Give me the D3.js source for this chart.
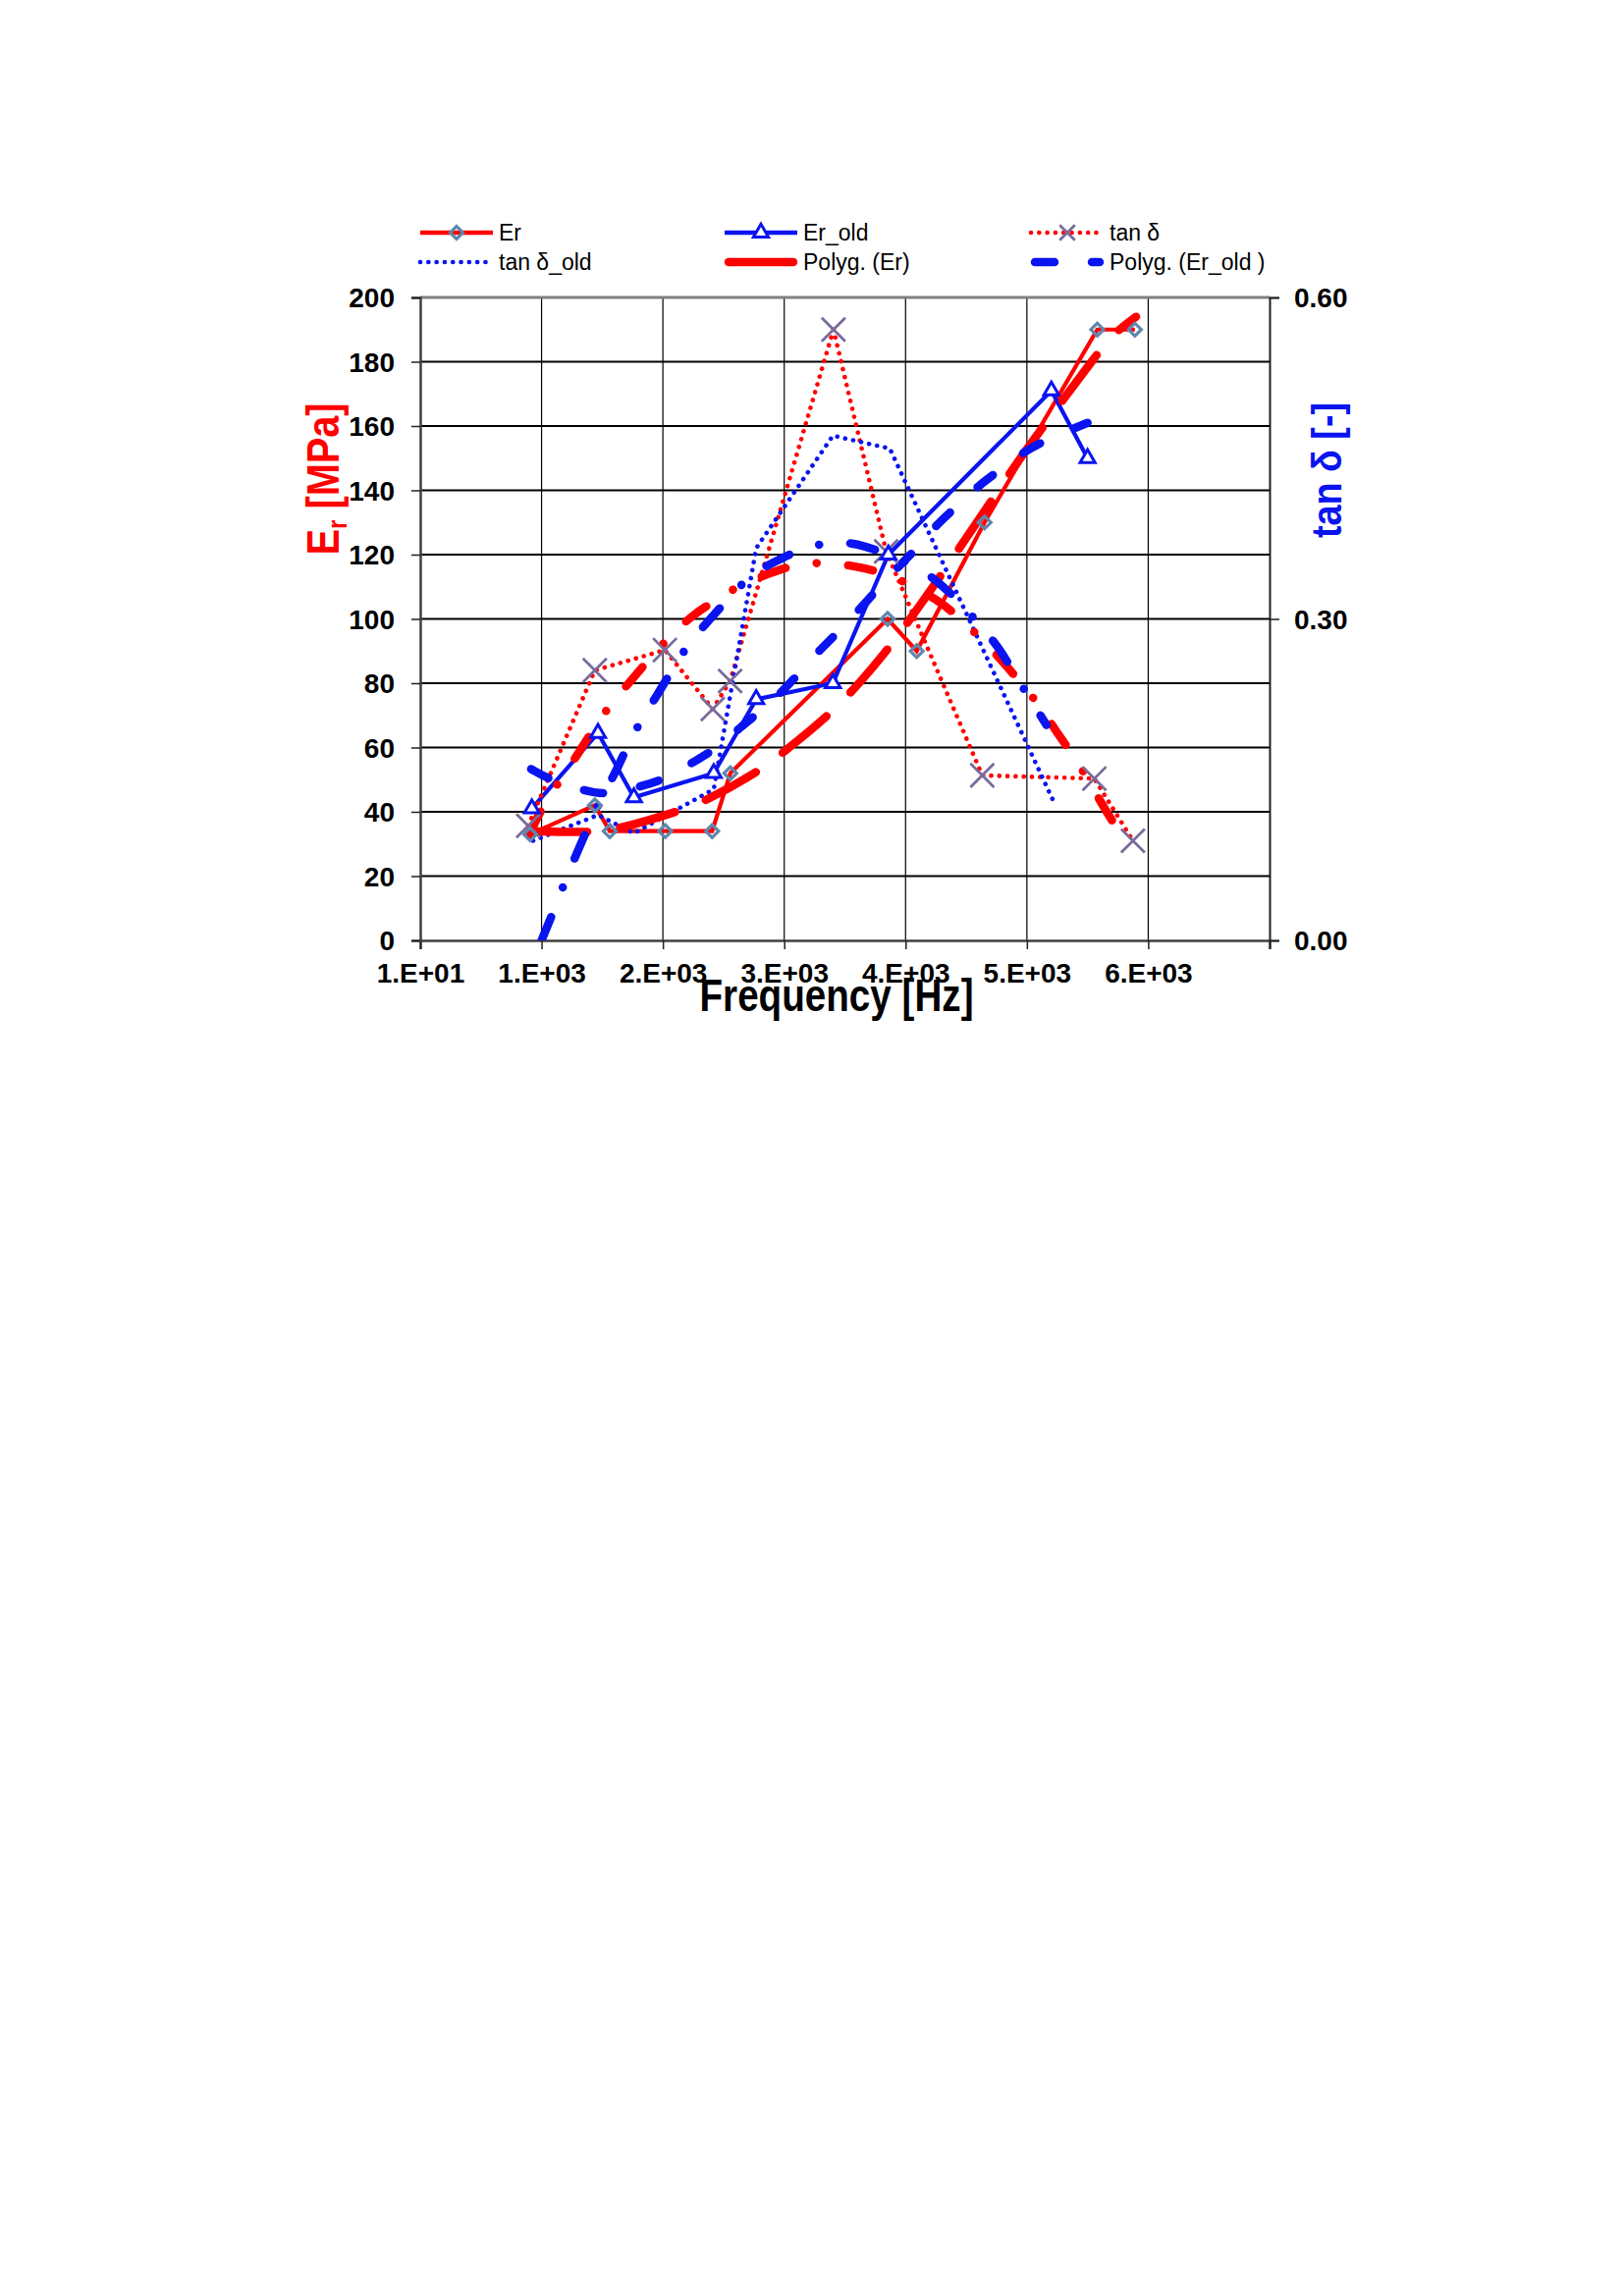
<!DOCTYPE html>
<html>
<head>
<meta charset="utf-8">
<script src="https://cdn.jsdelivr.net/npm/d3@7"></script>
<style>
  body { margin: 0; background: #fff; }
  svg { display: block; font-family: "Liberation Sans", Arial, sans-serif; }
</style>
</head>
<body>
<svg></svg>
<script>
// ---------- data ----------
// frequency in Hz, Er in MPa (left axis), tan δ unitless (right axis)
const erFreq = [906, 1439, 1562, 2019, 2406, 2556, 3852, 4092, 4651, 5580, 5890];
const erVal = [33, 42, 34, 34, 34, 52, 100, 90, 130, 190, 190];

const erOldFreq = [920, 1465, 1761, 2419, 2769, 3401, 3858, 5202, 5500];
const erOldVal = [41, 64.5, 44.5, 52, 75, 80, 120, 171, 150];

const tanFreq = [890, 1439, 2016, 2411, 2554, 3406, 3840, 4632, 5556, 5874];
const tanVal = [0.107, 0.252, 0.271, 0.216, 0.242, 0.570, 0.363, 0.154, 0.151, 0.093];

const tanOldFreq = [930, 1465, 1761, 2419, 2769, 3401, 3870, 5210];
const tanOldVal = [0.093, 0.117, 0.100, 0.141, 0.366, 0.471, 0.459, 0.132];

// trendlines (polynomial fits)
const polyErFreq = [906, 1398, 1627, 2124, 2339, 2782, 2971, 3360, 3640, 3842, 3992, 4274, 4424, 4706, 4879, 5108, 5580, 5720, 5900];
const polyErVal = [34, 33.5, 34.5, 40.1, 43.1, 52.3, 57.9, 69.6, 80.8, 90, 97.5, 112.5, 121, 136.5, 146.5, 158.5, 182.5, 189, 194];

const polyErOldFreq = [914, 1076, 1344, 1519, 1801, 2030, 2245, 2433, 2648, 2782, 2940, 3132, 3293, 3455, 3939, 4100, 4261, 4435, 4597, 4785, 4973, 5175, 5500];
const polyErOldVal = [53.3, 49.8, 46.7, 45.2, 47.7, 50.3, 55.4, 59.4, 66.6, 70.6, 75.7, 83.4, 90.5, 96, 116.4, 122, 129.7, 135.3, 141.4, 146.5, 152, 156, 161];

const polyTanFreq = [900, 1008, 1150, 1290, 1425, 1565, 1734, 1882, 2044, 2245, 2419, 2635, 2890, 3092, 3347, 3602, 3817, 4046, 4285, 4447, 4637, 4812, 4960, 5121, 5256, 5390, 5524, 5645, 5790];
const polyTanVal = [0.099, 0.125, 0.149, 0.172, 0.197, 0.220, 0.242, 0.262, 0.282, 0.304, 0.316, 0.332, 0.343, 0.351, 0.353, 0.349, 0.343, 0.332, 0.316, 0.301, 0.280, 0.259, 0.239, 0.217, 0.192, 0.172, 0.146, 0.122, 0.096];

const polyTanOldFreq = [1000, 1102, 1196, 1277, 1493, 1600, 1709, 1828, 1949, 2084, 2218, 2366, 2540, 2729, 2917, 3145, 3387, 3629, 4100, 4274, 4463, 4637, 4772, 4906, 5040, 5161];
const polyTanOldVal = [0.0, 0.028, 0.056, 0.078, 0.134, 0.154, 0.182, 0.207, 0.228, 0.254, 0.278, 0.297, 0.319, 0.342, 0.353, 0.366, 0.372, 0.371, 0.349, 0.334, 0.314, 0.291, 0.273, 0.247, 0.223, 0.201];

// axis ticks
const xTicks = [0, 1000, 2000, 3000, 4000, 5000, 6000, 7000];
const xTickLabels = ['1.E+01', '1.E+03', '2.E+03', '3.E+03', '4.E+03', '5.E+03', '6.E+03', ''];
const yLeftTicks = [0, 20, 40, 60, 80, 100, 120, 140, 160, 180, 200];
const yRightTicks = [0, 0.3, 0.6];
const yRightLabels = ['0.00', '0.30', '0.60'];

// ---------- layout ----------
const size = {w: 1654, h: 2339};
const plot = {l: 428, t: 303, r: 1293, b: 958};
const RED = '#ff0000', BLUE = '#0a14f0', DIAMOND = '#5f86ae', CROSS = '#7a6b9c';

const svg = d3.select('svg')
    .attr('width', size.w)
    .attr('height', size.h);

svg.append('rect').attr('width', size.w).attr('height', size.h).attr('fill', '#fff');

const x = d3.scaleLinear().domain([0, 7000]).range([plot.l, plot.r]);
const yL = d3.scaleLinear().domain([0, 200]).range([plot.b, plot.t]);
const yR = d3.scaleLinear().domain([0, 0.6]).range([plot.b, plot.t]);

// clip so the fits stay inside the plot area
svg.append('clipPath').attr('id', 'plotclip')
  .append('rect')
    .attr('x', plot.l).attr('y', plot.t)
    .attr('width', plot.r - plot.l).attr('height', plot.b - plot.t);

// ---------- grid ----------
const gridG = svg.append('g').classed('grid', true);
gridG.selectAll('line.v')
    .data(xTicks.slice(1, -1))
    .join('line').attr('class', 'v')
    .attr('x1', d => x(d)).attr('x2', d => x(d))
    .attr('y1', plot.t).attr('y2', plot.b)
    .attr('stroke', '#000').attr('stroke-width', 1.2);
gridG.selectAll('line.h')
    .data(yLeftTicks.slice(1, -1))
    .join('line').attr('class', 'h')
    .attr('x1', plot.l).attr('x2', plot.r)
    .attr('y1', d => yL(d)).attr('y2', d => yL(d))
    .attr('stroke', '#000').attr('stroke-width', 2);
// top border of the plot area is grey
gridG.append('line')
    .attr('x1', plot.l).attr('x2', plot.r)
    .attr('y1', plot.t).attr('y2', plot.t)
    .attr('stroke', '#808080').attr('stroke-width', 3);

// ---------- axes ----------
const fontTick = '28px';
const xAxis = svg.append('g')
    .attr('transform', `translate(0,${plot.b})`)
    .call(d3.axisBottom(x).tickValues(xTicks).tickSize(9).tickFormat((d, i) => xTickLabels[i]));
xAxis.select('.domain').attr('stroke', '#404040').attr('stroke-width', 2.5);
xAxis.selectAll('.tick line').attr('stroke', '#202020').attr('stroke-width', 1.5);
xAxis.selectAll('.tick text')
    .attr('y', 23).attr('dy', 0)
    .attr('dominant-baseline', 'hanging')
    .style('font-size', fontTick).style('font-weight', 'bold').attr('fill', '#000');

const yAxisL = svg.append('g')
    .attr('transform', `translate(${plot.l},0)`)
    .call(d3.axisLeft(yL).tickValues(yLeftTicks).tickSize(9).tickFormat(d3.format('d')));
yAxisL.select('.domain').attr('stroke', '#404040').attr('stroke-width', 2.5);
yAxisL.selectAll('.tick line').attr('stroke', '#202020').attr('stroke-width', 1.5);
yAxisL.selectAll('.tick text')
    .attr('x', -26).attr('dy', '0.34em')
    .style('font-size', fontTick).style('font-weight', 'bold').attr('fill', '#000');

const yAxisR = svg.append('g')
    .attr('transform', `translate(${plot.r},0)`)
    .call(d3.axisRight(yR).tickValues(yRightTicks).tickSize(10).tickFormat((d, i) => yRightLabels[i]));
yAxisR.select('.domain').attr('stroke', '#202020').attr('stroke-width', 2);
yAxisR.selectAll('.tick line').attr('stroke', '#202020').attr('stroke-width', 1.5);
yAxisR.selectAll('.tick text')
    .attr('x', 25).attr('dy', '0.34em')
    .style('font-size', fontTick).style('font-weight', 'bold').attr('fill', '#000');

// axis titles
svg.append('text')
    .attr('x', 852).attr('y', 1030)
    .attr('text-anchor', 'middle')
    .attr('textLength', 279).attr('lengthAdjust', 'spacingAndGlyphs')
    .style('font-size', '46px').style('font-weight', 'bold')
    .text('Frequency [Hz]');

const erTitle = svg.append('text')
    .attr('transform', 'translate(345,488) rotate(-90)')
    .attr('text-anchor', 'middle')
    .attr('textLength', 155).attr('lengthAdjust', 'spacingAndGlyphs')
    .attr('fill', RED)
    .style('font-size', '46px').style('font-weight', 'bold');
erTitle.append('tspan').text('E');
erTitle.append('tspan').attr('font-size', '28px').attr('dy', 8).text('r');
erTitle.append('tspan').attr('dy', -8).text(' [MPa]');

svg.append('text')
    .attr('transform', 'translate(1366,479) rotate(-90)')
    .attr('text-anchor', 'middle')
    .attr('textLength', 138).attr('lengthAdjust', 'spacingAndGlyphs')
    .attr('fill', BLUE)
    .style('font-size', '42px').style('font-weight', 'bold')
    .text('tan δ [-]');

// ---------- series ----------
const zip = (xs, ys) => xs.map((f, i) => ({f: f, v: ys[i]}));
const erData = zip(erFreq, erVal);
const erOldData = zip(erOldFreq, erOldVal);
const tanData = zip(tanFreq, tanVal);
const tanOldData = zip(tanOldFreq, tanOldVal);

const lineL = d3.line().x(d => x(d.f)).y(d => yL(d.v));
const lineR = d3.line().x(d => x(d.f)).y(d => yR(d.v));
const smoothL = d3.line().x(d => x(d.f)).y(d => yL(d.v)).curve(d3.curveBasis);
const smoothR = d3.line().x(d => x(d.f)).y(d => yR(d.v)).curve(d3.curveBasis);

const dataG = svg.append('g').attr('clip-path', 'url(#plotclip)');

const dotted = '0.1 8.2';
const longDash = '58 34';
const shortDash = '20 38';
const dashDot = '26 32 0.1 32';

// raw series lines
dataG.append('path').datum(erData).attr('d', lineL)
    .attr('fill', 'none').attr('stroke', RED).attr('stroke-width', 4.2);
dataG.append('path').datum(erOldData).attr('d', lineL)
    .attr('fill', 'none').attr('stroke', BLUE).attr('stroke-width', 4.2);
dataG.append('path').datum(tanData).attr('d', lineR)
    .attr('fill', 'none').attr('stroke', RED).attr('stroke-width', 4.6)
    .attr('stroke-dasharray', dotted).attr('stroke-linecap', 'round');
dataG.append('path').datum(tanOldData).attr('d', lineR)
    .attr('fill', 'none').attr('stroke', BLUE).attr('stroke-width', 4.6)
    .attr('stroke-dasharray', dotted).attr('stroke-linecap', 'round');

// trendlines
const trends = [
    {data: zip(polyErFreq, polyErVal), gen: smoothL, color: RED, dash: longDash},
    {data: zip(polyErOldFreq, polyErOldVal), gen: smoothL, color: BLUE, dash: shortDash},
    {data: zip(polyTanFreq, polyTanVal), gen: smoothR, color: RED, dash: dashDot},
    {data: zip(polyTanOldFreq, polyTanOldVal), gen: smoothR, color: BLUE, dash: dashDot}
];
trends.forEach(t => {
    dataG.append('path').datum(t.data).attr('d', t.gen)
        .attr('fill', 'none').attr('stroke', t.color).attr('stroke-width', 8.5)
        .attr('stroke-dasharray', t.dash).attr('stroke-linecap', 'round');
});

// markers
const diamond = d3.symbol(d3.symbolSquare, 85);
const triangle = d3.symbol(d3.symbolTriangle, 100);
const cross = d3.symbol(d3.symbolTimes, 380);

svg.append('g').selectAll('path')
    .data(tanData)
    .join('path')
    .attr('d', cross)
    .attr('transform', d => `translate(${x(d.f)},${yR(d.v)})`)
    .attr('fill', 'none').attr('stroke', CROSS).attr('stroke-width', 2.8);

svg.append('g').selectAll('path')
    .data(erData)
    .join('path')
    .attr('d', diamond)
    .attr('transform', d => `translate(${x(d.f)},${yL(d.v)}) rotate(45)`)
    .attr('fill', 'none').attr('stroke', DIAMOND).attr('stroke-width', 3.2);

svg.append('g').selectAll('path')
    .data(erOldData)
    .join('path')
    .attr('d', triangle)
    .attr('transform', d => `translate(${x(d.f)},${yL(d.v)})`)
    .attr('fill', '#fff').attr('stroke', BLUE).attr('stroke-width', 3);

// ---------- legend ----------
const legendItems = [
    {label: 'Er', col: 0, row: 0, color: RED, width: 4.5, dash: null, marker: 'diamond'},
    {label: 'Er_old', col: 1, row: 0, color: BLUE, width: 4.5, dash: null, marker: 'triangle'},
    {label: 'tan δ', col: 2, row: 0, color: RED, width: 4.6, dash: dotted, marker: 'cross'},
    {label: 'tan δ_old', col: 0, row: 1, color: BLUE, width: 4.6, dash: dotted, marker: null},
    {label: 'Polyg. (Er)', col: 1, row: 1, color: RED, width: 8.5, dash: null, marker: null},
    {label: 'Polyg. (Er_old )', col: 2, row: 1, color: BLUE, width: 8.5, dash: shortDash, marker: null}
];
const legendCols = [428, 738, 1050];
const legendRows = [237, 267];

const legendG = svg.append('g').classed('legend', true);
legendItems.forEach(item => {
    const x0 = legendCols[item.col];
    const yy = legendRows[item.row];
    const g = legendG.append('g').attr('transform', `translate(${x0},${yy})`);
    const inset = item.width > 8 ? 4 : 0;
    g.append('line')
        .attr('x1', inset).attr('x2', 74 - inset).attr('y1', 0).attr('y2', 0)
        .attr('stroke', item.color).attr('stroke-width', item.width)
        .attr('stroke-dasharray', item.dash)
        .attr('stroke-linecap', item.dash || item.width > 8 ? 'round' : 'butt');
    if (item.marker === 'diamond') {
        g.append('path').attr('d', diamond).attr('transform', 'translate(37,0) rotate(45)')
            .attr('fill', 'none').attr('stroke', DIAMOND).attr('stroke-width', 3.2);
    } else if (item.marker === 'triangle') {
        g.append('path').attr('d', triangle).attr('transform', 'translate(37,0)')
            .attr('fill', '#fff').attr('stroke', BLUE).attr('stroke-width', 3);
    } else if (item.marker === 'cross') {
        g.append('path').attr('d', d3.symbol(d3.symbolTimes, 160)).attr('transform', 'translate(37,0)')
            .attr('fill', 'none').attr('stroke', CROSS).attr('stroke-width', 2.8);
    }
    g.append('text')
        .attr('x', 80).attr('y', 8)
        .style('font-size', '23px')
        .text(item.label);
});
</script>
</body>
</html>
